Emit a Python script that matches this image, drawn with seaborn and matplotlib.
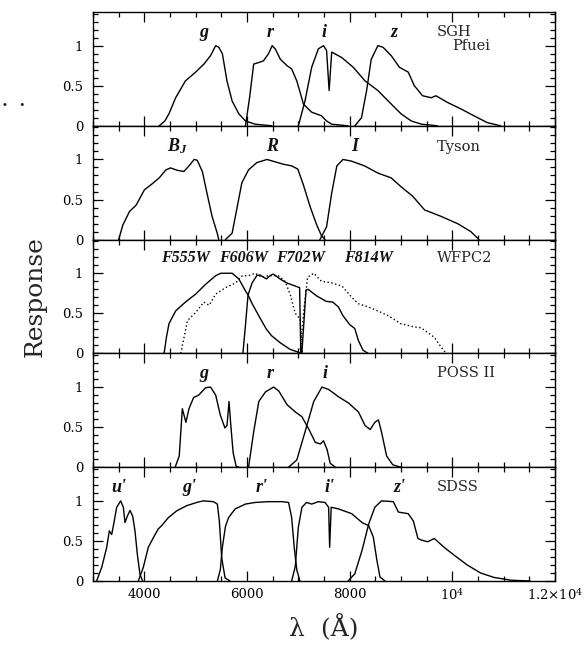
import numpy as np
import pandas as pd
import matplotlib
matplotlib.use("Agg")
import matplotlib.pyplot as plt
from matplotlib.ticker import MultipleLocator, FixedLocator, FixedFormatter
import seaborn as sns

# ---------------- filter response curves (wavelength in Angstrom) ----------------
# SGH / Pfuei
sgh_g_wl = [4290, 4400, 4480, 4610, 4800, 5000, 5160, 5290, 5390, 5450, 5520, 5610, 5710, 5840, 5970, 6160, 6480]
sgh_g = [0, 0.06, 0.15, 0.35, 0.56, 0.67, 0.77, 0.875, 1.0, 0.98, 0.9, 0.56, 0.31, 0.15, 0.06, 0.02, 0]
sgh_r_wl = [5970, 6050, 6130, 6230, 6320, 6420, 6490, 6550, 6650, 6780, 6870, 6970, 7100, 7260, 7450, 7550, 7650, 7970]
sgh_r = [0, 0.35, 0.77, 0.79, 0.81, 0.9, 1.0, 0.96, 0.83, 0.75, 0.71, 0.56, 0.27, 0.17, 0.125, 0.06, 0.02, 0]
sgh_i_wl = [7000, 7130, 7260, 7390, 7490, 7550, 7600, 7650, 7850, 8070, 8300, 8550, 8750, 9000, 9200, 9400, 9710]
sgh_i = [0, 0.31, 0.73, 0.96, 1.0, 0.94, 0.44, 0.92, 0.85, 0.73, 0.56, 0.44, 0.31, 0.15, 0.06, 0.02, 0]
sgh_z_wl = [8100, 8230, 8330, 8420, 8550, 8650, 8810, 8970, 9140, 9260, 9420, 9590, 9680, 9910, 10170, 10420, 10680, 10940]
sgh_z = [0, 0.1, 0.44, 0.83, 1.0, 0.98, 0.875, 0.73, 0.67, 0.5, 0.375, 0.35, 0.375, 0.29, 0.21, 0.125, 0.04, 0]

# Tyson
tys_bj_wl = [3500, 3580, 3710, 3840, 4000, 4160, 4290, 4420, 4510, 4640, 4770, 4870, 4970, 5030, 5130, 5220, 5320, 5420, 5450]
tys_bj = [0, 0.18, 0.35, 0.43, 0.62, 0.70, 0.77, 0.87, 0.895, 0.865, 0.85, 0.92, 1.0, 0.99, 0.85, 0.58, 0.29, 0.08, 0]
tys_r_wl = [5580, 5710, 5810, 5900, 6030, 6190, 6390, 6550, 6710, 6870, 6990, 7100, 7230, 7360, 7450, 7520]
tys_r = [0, 0.08, 0.41, 0.71, 0.87, 0.96, 1.0, 0.97, 0.94, 0.92, 0.88, 0.68, 0.41, 0.18, 0.05, 0]
tys_i_wl = [7420, 7550, 7650, 7750, 7870, 8030, 8290, 8550, 8810, 9000, 9230, 9460, 9780, 10100, 10360, 10520]
tys_i = [0, 0.16, 0.58, 0.92, 1.0, 0.98, 0.92, 0.83, 0.77, 0.66, 0.54, 0.37, 0.29, 0.2, 0.1, 0]

# WFPC2
f555_wl = [4385, 4430, 4480, 4610, 4800, 5000, 5190, 5390, 5490, 5710, 5840, 5970, 6020, 6100, 6290, 6380, 6480, 6640, 6840, 7070]
f555 = [0, 0.2, 0.37, 0.53, 0.64, 0.74, 0.86, 0.97, 1.0, 1.0, 0.93, 0.78, 0.73, 0.62, 0.4, 0.3, 0.22, 0.136, 0.05, 0]
f606_wl = [4710, 4840, 5000, 5160, 5260, 5390, 5580, 5780, 5910, 6030, 6160, 6290, 6420, 6610, 6740, 6840, 6940, 6990, 7030, 7055, 7080]
f606 = [0, 0.41, 0.51, 0.64, 0.6, 0.74, 0.82, 0.88, 0.97, 0.97, 1.0, 0.95, 0.97, 0.97, 0.9, 0.74, 0.5, 0.46, 0.44, 0.2, 0]
f702_wl = [5920, 5970, 6020, 6100, 6190, 6250, 6320, 6380, 6450, 6510, 6580, 6640, 6770, 6900, 7025, 7048, 7068,
           7150, 7190, 7350, 7540, 7670, 7780, 7870, 8000, 8100, 8170, 8260, 8360]
f702 = [0, 0.35, 0.73, 0.88, 0.97, 0.98, 0.95, 0.93, 0.97, 0.99, 0.96, 0.93, 0.88, 0.85, 0.82, 0.0, 0.0,
        0.79, 0.8, 0.72, 0.65, 0.64, 0.58, 0.47, 0.36, 0.31, 0.16, 0.04, 0]
f814_wl = [7030, 7100, 7180, 7300, 7450, 7650, 7850, 8040, 8170, 8360, 8550, 8750, 9000, 9260, 9390, 9520, 9650, 9780, 9880]
f814 = [0, 0.5, 0.95, 1.0, 0.9, 0.88, 0.84, 0.7, 0.62, 0.58, 0.53, 0.47, 0.37, 0.33, 0.32, 0.26, 0.2, 0.08, 0]

# POSS II
poss_g_wl = [4600, 4680, 4740, 4810, 4870, 4960, 5060, 5190, 5290, 5390, 5480, 5570, 5610, 5650, 5680, 5730, 5790, 5840]
poss_g = [0, 0.14, 0.73, 0.56, 0.73, 0.87, 0.9, 0.99, 1.0, 0.9, 0.65, 0.49, 0.52, 0.82, 0.56, 0.18, 0.01, 0]
poss_r_wl = [6030, 6130, 6230, 6360, 6520, 6620, 6780, 6940, 7070, 7200, 7330, 7430, 7490, 7560, 7620, 7720]
poss_r = [0, 0.44, 0.82, 0.94, 1.0, 0.95, 0.78, 0.69, 0.63, 0.48, 0.31, 0.29, 0.33, 0.22, 0.05, 0]
poss_i_wl = [6810, 6970, 7130, 7300, 7460, 7590, 7780, 7980, 8170, 8300, 8400, 8490, 8560, 8620, 8720, 8840, 9000]
poss_i = [0, 0.09, 0.44, 0.82, 1.0, 0.97, 0.88, 0.8, 0.69, 0.52, 0.47, 0.56, 0.59, 0.44, 0.14, 0.03, 0]

# SDSS
sdss_u_wl = [3070, 3170, 3267, 3318, 3364, 3409, 3461, 3540, 3591, 3623, 3669, 3721, 3773, 3818, 3864, 3916, 3968]
sdss_u = [0, 0.17, 0.42, 0.625, 0.58, 0.73, 0.92, 1.0, 0.92, 0.73, 0.81, 0.88, 0.81, 0.625, 0.33, 0.08, 0]
sdss_g_wl = [3883, 3980, 4077, 4175, 4272, 4337, 4467, 4630, 4825, 5020, 5149, 5344, 5422, 5461, 5507, 5572, 5669]
sdss_g = [0, 0.17, 0.42, 0.54, 0.65, 0.69, 0.79, 0.875, 0.94, 0.98, 1.0, 0.99, 0.96, 0.75, 0.29, 0.04, 0]
sdss_r_wl = [5423, 5480, 5520, 5580, 5640, 5770, 5970, 6160, 6420, 6680, 6810, 6870, 6920, 6970, 7030]
sdss_r = [0, 0.14, 0.42, 0.68, 0.79, 0.9, 0.96, 0.98, 0.99, 0.99, 0.98, 0.79, 0.42, 0.14, 0]
sdss_i_wl = [6870, 6940, 7000, 7070, 7160, 7260, 7390, 7520, 7590, 7610, 7640, 7780, 8040, 8240, 8370, 8460, 8530, 8590, 8690]
sdss_i = [0, 0.18, 0.67, 0.92, 0.98, 0.96, 0.99, 0.98, 0.92, 0.42, 0.92, 0.9, 0.84, 0.73, 0.69, 0.55, 0.26, 0.05, 0]
sdss_z_wl = [7970, 8100, 8240, 8370, 8490, 8620, 8850, 8950, 9140, 9240, 9330, 9400, 9520, 9650, 9840, 10040, 10290,
             10550, 10810, 11140, 11520]
sdss_z = [0, 0.09, 0.38, 0.71, 0.92, 1.0, 0.99, 0.86, 0.84, 0.75, 0.53, 0.51, 0.49, 0.53, 0.42, 0.32, 0.2,
          0.1, 0.045, 0.01, 0]

# panel names and filter labels (label text, wavelength position)
panel_names = [["SGH", "Pfuei"], ["Tyson"], ["WFPC2"], ["POSS II"], ["SDSS"]]
sgh_labels = [("g", 5160), ("r", 6450), ("i", 7510), ("z", 8860)]
tyson_labels = [("$B_J$", 4650), ("R", 6480), ("I", 8100)]
wfpc2_labels = [("F555W", 4800), ("F606W", 5930), ("F702W", 7050), ("F814W", 8370)]
poss_labels = [("g", 5160), ("r", 6450), ("i", 7520)]
sdss_labels = [("u'", 3510), ("g'", 4870), ("r'", 6290), ("i'", 7610), ("z'", 8970)]

xtick_values = [4000, 6000, 8000, 10000, 12000]
xtick_labels = ["4000", "6000", "8000", "$10^4$", r"$1.2{\times}10^4$"]
ytick_values = [0, 0.5, 1]
ytick_labels = ["0", "0.5", "1"]

panels = [
    ([(sgh_g_wl, sgh_g, "-"), (sgh_r_wl, sgh_r, "-"), (sgh_i_wl, sgh_i, "-"), (sgh_z_wl, sgh_z, "-")], sgh_labels),
    ([(tys_bj_wl, tys_bj, "-"), (tys_r_wl, tys_r, "-"), (tys_i_wl, tys_i, "-")], tyson_labels),
    ([(f555_wl, f555, "-"), (f606_wl, f606, "dot"), (f702_wl, f702, "-"), (f814_wl, f814, "dot")], wfpc2_labels),
    ([(poss_g_wl, poss_g, "-"), (poss_r_wl, poss_r, "-"), (poss_i_wl, poss_i, "-")], poss_labels),
    ([(sdss_u_wl, sdss_u, "-"), (sdss_g_wl, sdss_g, "-"), (sdss_r_wl, sdss_r, "-"),
      (sdss_i_wl, sdss_i, "-"), (sdss_z_wl, sdss_z, "-")], sdss_labels),
]

sns.set_style("ticks")
plt.rcParams["font.family"] = ["DejaVu Serif"]
plt.rcParams["mathtext.fontset"] = "custom"
plt.rcParams["mathtext.rm"] = "DejaVu Serif"
plt.rcParams["mathtext.it"] = "Liberation Serif:italic:bold"
plt.rcParams["mathtext.bf"] = "DejaVu Serif:bold"

fig, axes = plt.subplots(5, 1, sharex=True, figsize=(5.88, 6.49), dpi=100)
fig.subplots_adjust(left=93 / 588, right=555 / 588, top=1 - 12 / 649, bottom=1 - 581 / 649, hspace=0)

label_y = [1.17, 1.16, 1.19, 1.17, 1.17]
label_size = [13, 13, 11.5, 13, 13]
for k, (ax, (curves, labels)) in enumerate(zip(axes, panels)):
    for wl, resp, style in curves:
        df = pd.DataFrame({"wavelength": wl, "response": resp})
        ls = (0, (1.0, 1.8)) if style == "dot" else "-"
        sns.lineplot(data=df, x="wavelength", y="response", ax=ax, color="black",
                     linewidth=1.0, linestyle=ls, estimator=None, sort=False)
    for text, xpos in labels:
        ax.text(xpos, label_y[k], text, ha="center", va="center", fontsize=label_size[k],
                family="Liberation Serif", fontstyle="italic", fontweight="bold", color="#111111")
    names = panel_names[k]
    ax.text(9700, label_y[k], names[0], ha="left", va="center", fontsize=10.5)
    if len(names) > 1:
        ax.text(10000, 1.0, names[1], ha="left", va="center", fontsize=10.5)

    ax.set_xlim(3000, 12000)
    ax.set_ylim(0, 1.42)
    ax.set_xlabel("")
    ax.set_ylabel("")
    ax.yaxis.set_major_locator(FixedLocator(ytick_values))
    ax.yaxis.set_major_formatter(FixedFormatter(ytick_labels))
    ax.yaxis.set_minor_locator(MultipleLocator(0.1))
    ax.xaxis.set_major_locator(FixedLocator(xtick_values))
    ax.xaxis.set_major_formatter(FixedFormatter(xtick_labels))
    ax.xaxis.set_minor_locator(MultipleLocator(500))
    ax.tick_params(which="both", direction="in", top=True, right=True, width=0.9, colors="black",
                   labelsize=9.5)
    ax.tick_params(which="major", length=7)
    ax.tick_params(which="minor", length=3.5)
    ax.tick_params(axis="y", pad=7)
    ax.tick_params(axis="x", pad=5)
    for sp in ax.spines.values():
        sp.set_linewidth(1.0)
        sp.set_color("black")

fig.text(0.06, (1 - 12 / 649 + 1 - 581 / 649) / 2, "Response", rotation=90, ha="center", va="center",
         fontsize=18)
fig.text((93 + 555) / 2 / 588, 1 - 628 / 649, "\u03bb  (\u00c5)", ha="center", va="center", fontsize=18)
fig.text(0.003, 1 - 106 / 649, "\u00b7  \u00b7", ha="left", va="center", fontsize=12, fontweight="bold")

fig.savefig("out.png", dpi=100)
